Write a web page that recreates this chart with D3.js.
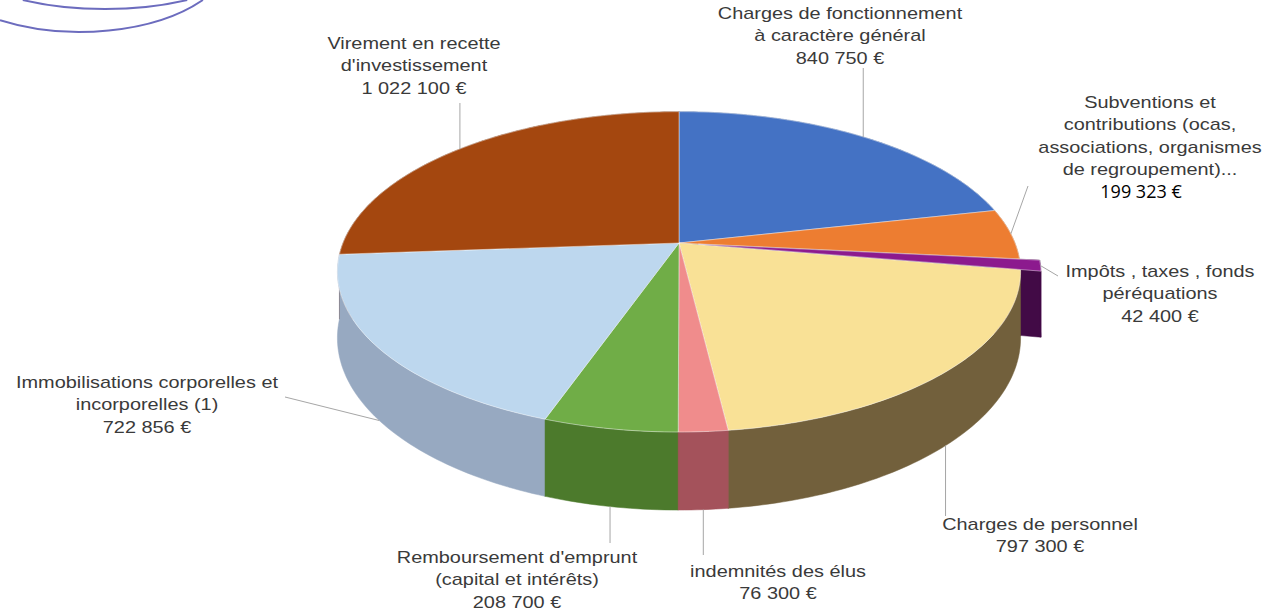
<!DOCTYPE html>
<html lang="fr">
<head>
<meta charset="utf-8">
<title>Dépenses de fonctionnement</title>
<script src="https://cdn.jsdelivr.net/npm/d3@7"></script>
<style>
  html, body { margin: 0; padding: 0; background: #fff; }
  #chart svg { display: block; }
  .lbl { font-family: "Liberation Sans", Arial, sans-serif; font-size: 17px; fill: #3a3a3a; }
  .lbl-alt { font-family: "Open Sans", sans-serif; font-size: 18px; fill: #000; }
</style>
</head>
<body>
<div id="chart"></div>
<script>
// slices in the order Excel draws them: clockwise from 12 o'clock
const labels = [
  ["Charges de fonctionnement", "à caractère général"],
  ["Subventions et", "contributions (ocas,", "associations, organismes", "de regroupement)..."],
  ["Impôts , taxes , fonds", "péréquations"],
  ["Charges de personnel"],
  ["indemnités des élus"],
  ["Remboursement d'emprunt", "(capital et intérêts)"],
  ["Immobilisations corporelles et", "incorporelles (1)"],
  ["Virement en recette", "d'investissement"]
];
const values = [840750, 199323, 42400, 797300, 76300, 208700, 722856, 1022100];
const explodedIndex = 2;

// colours: top face / side face
const topColors  = ["#4472C4", "#ED7D31", "#8C1A8E", "#F9E196", "#F08C8C", "#70AD47", "#BDD7EE", "#A4470F"];
const sideColors = ["#2F5597", "#A9561F", "#420A46", "#72603C", "#A4525B", "#4C7A2C", "#97A9C1", "#6E2F0A"];

// label placement: centre x, centre of first line, start of the leader line
const labelPos = [
  { x: 840,  y: 13,  lead: [null, 68] },
  { x: 1150, y: 102, lead: [1028, 186] },
  { x: 1160, y: 271, lead: [1058, 276] },
  { x: 1040, y: 524, lead: [null, 516] },
  { x: 778,  y: 571, lead: [null, 555] },
  { x: 517,  y: 557, lead: [null, 543] },
  { x: 147,  y: 382, lead: [285, 397] },
  { x: 414,  y: 43,  lead: [null, 103] }
];

const W = 1262, H = 611;
const lineH = 22.5;
const textStretch = 1.17;

// 3D pie geometry (screen px)
const cx = 679, cy = 243;   // apex of the top face
const rx = 336, ry = 155;   // radii of the top face
const persp = 0.18;         // perspective: near side bigger than far side
const thick = 64;           // side height
const explodeDist = 0.058;

const fmt = d3.formatLocale({ decimal: ",", thousands: " ", grouping: [3], currency: ["", " €"] }).format("$,.0f");

const svg = d3.select("#chart").append("svg")
  .attr("width", W)
  .attr("height", H);

svg.append("rect").attr("width", W).attr("height", H).attr("fill", "#fff");

// page decoration at top left
const deco = svg.append("g")
  .attr("fill", "none")
  .attr("stroke", "#6C6CBE")
  .attr("stroke-width", 2);
deco.append("path").attr("d", "M22.8,0 A156,60 0 0,0 187.2,0");
deco.append("path").attr("d", "M0,20.2 A155,82 0 0,0 202.9,0");

// project a point of the disc: t angle (clockwise from top), r radius 0..1, z 0 = top, 1 = bottom
function P(t, r, z, off) {
  const X = r * Math.sin(t) + off[0];
  const D = r * Math.cos(t) + off[1];   // depth, + is far
  const w = 1 + persp * D;
  return [cx + rx * X / w, cy - ry * D / w + thick * z / w];
}

function arcPts(s, z) {
  const n = Math.max(2, Math.ceil((s.a1 - s.a0) / (Math.PI / 180)));
  return d3.range(n + 1).map(k => P(s.a0 + (s.a1 - s.a0) * k / n, 1, z, s.off));
}

const pie = d3.pie().sort(null).value(d => d)(values);
const slices = pie.map((p, i) => {
  const mid = (p.startAngle + p.endAngle) / 2;
  const ex = i === explodedIndex ? explodeDist : 0;
  return { i, a0: p.startAngle, a1: p.endAngle, mid, off: [ex * Math.sin(mid), ex * Math.cos(mid)] };
});

const closed = d3.line().curve(d3.curveLinearClosed);

// 1) radial (cut) faces, far to near
const radial = [];
slices.forEach(s => {
  [s.a0, s.a1].forEach(a => {
    radial.push({
      i: s.i,
      depth: 0.5 * Math.cos(a) + s.off[1],
      pts: [P(a, 0, 0, s.off), P(a, 1, 0, s.off), P(a, 1, 1, s.off), P(a, 0, 1, s.off)]
    });
  });
});
radial.sort((a, b) => b.depth - a.depth);

svg.append("g").attr("class", "radial-faces")
  .selectAll("path")
  .data(radial)
  .enter()
  .append("path")
  .attr("d", d => closed(d.pts))
  .attr("fill", d => sideColors[d.i])
  .attr("stroke", d => sideColors[d.i])
  .attr("stroke-width", 0.5);

// 2) outer faces, far to near
const outer = slices.map(s => ({
  i: s.i,
  depth: Math.cos(s.mid) + s.off[1],
  pts: arcPts(s, 0).concat(arcPts(s, 1).reverse())
})).sort((a, b) => b.depth - a.depth);

svg.append("g").attr("class", "outer-faces")
  .selectAll("path")
  .data(outer)
  .enter()
  .append("path")
  .attr("d", d => closed(d.pts))
  .attr("fill", d => sideColors[d.i])
  .attr("stroke", d => sideColors[d.i])
  .attr("stroke-width", 0.5);

// 3) top faces, exploded slice last
const tops = slices.slice().sort((a, b) => (a.i === explodedIndex) - (b.i === explodedIndex));

svg.append("g").attr("class", "top-faces")
  .selectAll("path")
  .data(tops)
  .enter()
  .append("path")
  .attr("d", s => closed([P(0, 0, 0, s.off)].concat(arcPts(s, 0))))
  .attr("fill", s => topColors[s.i])
  .attr("stroke", "#fff")
  .attr("stroke-opacity", 0.55)
  .attr("stroke-width", 0.8);

// leader lines: from label to middle of the slice edge
const leaders = svg.append("g").attr("class", "leaders")
  .attr("stroke", "#A6A6A6")
  .attr("stroke-width", 1);

slices.forEach(s => {
  const front = Math.cos(s.mid) < -persp;
  const end = P(s.mid, 1, front ? 1 : 0, s.off);
  const lp = labelPos[s.i];
  const x0 = lp.lead[0] === null ? end[0] : lp.lead[0];
  leaders.append("line")
    .attr("x1", x0).attr("y1", lp.lead[1])
    .attr("x2", end[0]).attr("y2", end[1]);
});

// labels
const lblGroup = svg.append("g").attr("class", "labels");
slices.forEach(s => {
  const lp = labelPos[s.i];
  const lines = labels[s.i].concat([fmt(values[s.i])]);
  lines.forEach((txt, k) => {
    const isAlt = s.i === 1 && k === lines.length - 1;
    const g = lblGroup.append("g")
      .attr("transform", `translate(${lp.x - (isAlt ? 9 : 0)},${lp.y + k * lineH}) scale(${isAlt ? 1 : textStretch},1)`);
    g.append("text")
      .attr("class", isAlt ? "lbl-alt" : "lbl")
      .attr("text-anchor", "middle")
      .attr("dy", "0.35em")
      .text(txt);
  });
});
</script>
</body>
</html>
